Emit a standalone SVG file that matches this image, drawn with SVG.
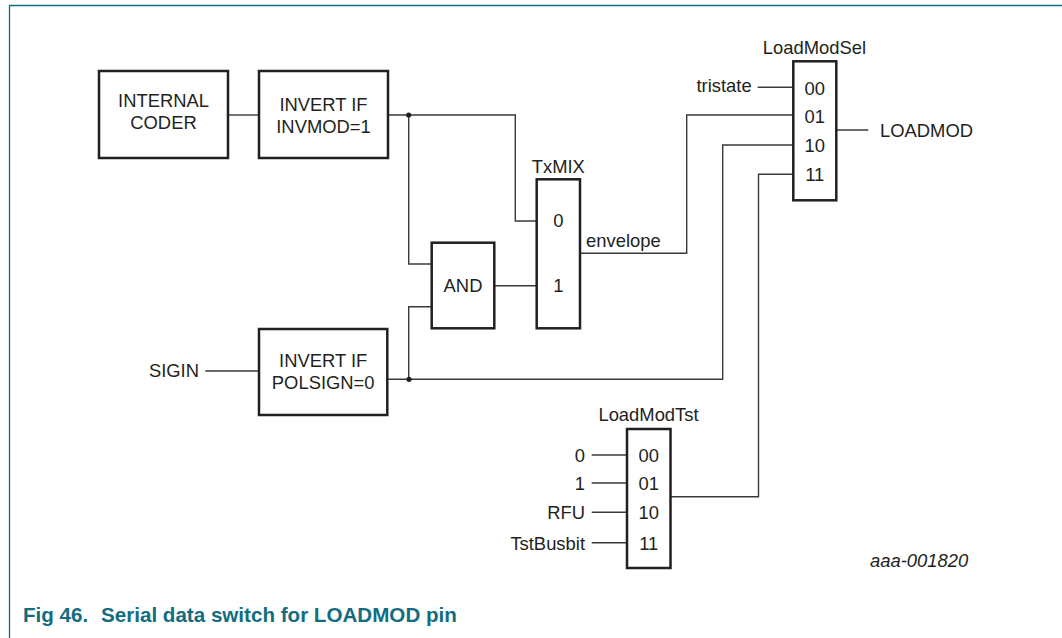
<svg xmlns="http://www.w3.org/2000/svg" width="1062" height="638" viewBox="0 0 1062 638">
  <style>
    .box { fill: #ffffff; stroke: #231f20; stroke-width: 2.5; }
    .wire { fill: none; stroke: #3a3a3a; stroke-width: 1.4; }
    .frame { fill: none; stroke: #136d80; stroke-width: 1.3; }
    text { font-family: "Liberation Sans", Arial, sans-serif; font-size: 18.4px; fill: #231f20; }
    .c { text-anchor: middle; }
    .r { text-anchor: end; }
    .ref { font-style: italic; }
    .cap { font-weight: bold; fill: #136d80; font-size: 20.6px; }
  </style>
  <rect width="1062" height="638" fill="#ffffff"/>
  <g id="frame">
    <path class="frame" d="M9.5 638 V5.5 H1062"/>
  </g>

  <g id="connectors">
    <path class="wire" d="M228 115 H259"/>
    <path class="wire" d="M388 115 H515.3 V221 H537"/>
    <path class="wire" d="M408.7 115 V264 H432"/>
    <path class="wire" d="M432 306.7 H408.7 V379.3"/>
    <path class="wire" d="M494 285.7 H537"/>
    <path class="wire" d="M580 253.3 H686.7 V115 H793.3"/>
    <path class="wire" d="M387 379.3 H722.7 V145 H793.3"/>
    <path class="wire" d="M670 496.7 H758.5 V174.3 H793.3"/>
    <path class="wire" d="M757.7 87.3 H793.3"/>
    <path class="wire" d="M836.3 130 H868.3"/>
    <path class="wire" d="M205.3 371 H259"/>
    <path class="wire" d="M591.7 455 H627"/>
    <path class="wire" d="M591.7 483 H627"/>
    <path class="wire" d="M591.7 512.3 H627"/>
    <path class="wire" d="M591.7 542.7 H627"/>
    <circle cx="408.7" cy="115" r="2.6" fill="#231f20"/>
    <circle cx="409" cy="379.3" r="2.6" fill="#231f20"/>
  </g>

  <g id="internal-coder">
    <rect class="box" x="99" y="71" width="129" height="87"/>
    <text class="c" x="163.5" y="107">INTERNAL</text>
    <text class="c" x="163.5" y="129">CODER</text>
  </g>

  <g id="invert-invmod">
    <rect class="box" x="259" y="71" width="129" height="87"/>
    <text class="c" x="323.5" y="111.3">INVERT IF</text>
    <text class="c" x="323.5" y="133">INVMOD=1</text>
  </g>

  <g id="invert-polsign">
    <rect class="box" x="259" y="329" width="128.3" height="86"/>
    <text class="c" x="323.2" y="367">INVERT IF</text>
    <text class="c" x="323.2" y="388.6">POLSIGN=0</text>
  </g>

  <g id="sigin">
    <text class="r" x="199" y="377">SIGIN</text>
  </g>

  <g id="and">
    <rect class="box" x="431.7" y="242.7" width="62.6" height="85.6"/>
    <text class="c" x="463" y="292">AND</text>
  </g>

  <g id="txmix">
    <text class="c" x="558.3" y="173">TxMIX</text>
    <rect class="box" x="536.7" y="179.3" width="43.3" height="149"/>
    <text class="c" x="558.3" y="227.3">0</text>
    <text class="c" x="558.3" y="292">1</text>
  </g>

  <g id="envelope">
    <text x="586" y="247">envelope</text>
  </g>

  <g id="loadmodsel">
    <text class="c" x="814.5" y="53.6">LoadModSel</text>
    <rect class="box" x="793.3" y="61.3" width="43" height="139"/>
    <text class="c" x="814.8" y="94.5">00</text>
    <text class="c" x="814.8" y="122.5">01</text>
    <text class="c" x="814.8" y="152">10</text>
    <text class="c" x="814.8" y="181.2">11</text>
  </g>

  <g id="tristate">
    <text class="r" x="751.7" y="91.8">tristate</text>
  </g>

  <g id="loadmod">
    <text x="880" y="137">LOADMOD</text>
  </g>

  <g id="loadmodtst">
    <text class="c" x="648.5" y="421.3">LoadModTst</text>
    <rect class="box" x="627" y="429" width="43.5" height="139"/>
    <text class="c" x="648.8" y="462">00</text>
    <text class="c" x="648.8" y="490.3">01</text>
    <text class="c" x="648.8" y="519.3">10</text>
    <text class="c" x="648.8" y="549.6">11</text>
  </g>

  <g id="tst-inputs">
    <text class="r" x="585" y="462">0</text>
    <text class="r" x="585" y="490.3">1</text>
    <text class="r" x="585" y="519.3">RFU</text>
    <text class="r" x="585" y="549.6">TstBusbit</text>
  </g>

  <g id="ref">
    <text class="ref" x="870" y="567">aaa-001820</text>
  </g>

  <g id="caption">
    <text class="cap" x="23" y="622">Fig 46.</text>
    <text class="cap" x="101" y="622">Serial data switch for LOADMOD pin</text>
  </g>
</svg>
